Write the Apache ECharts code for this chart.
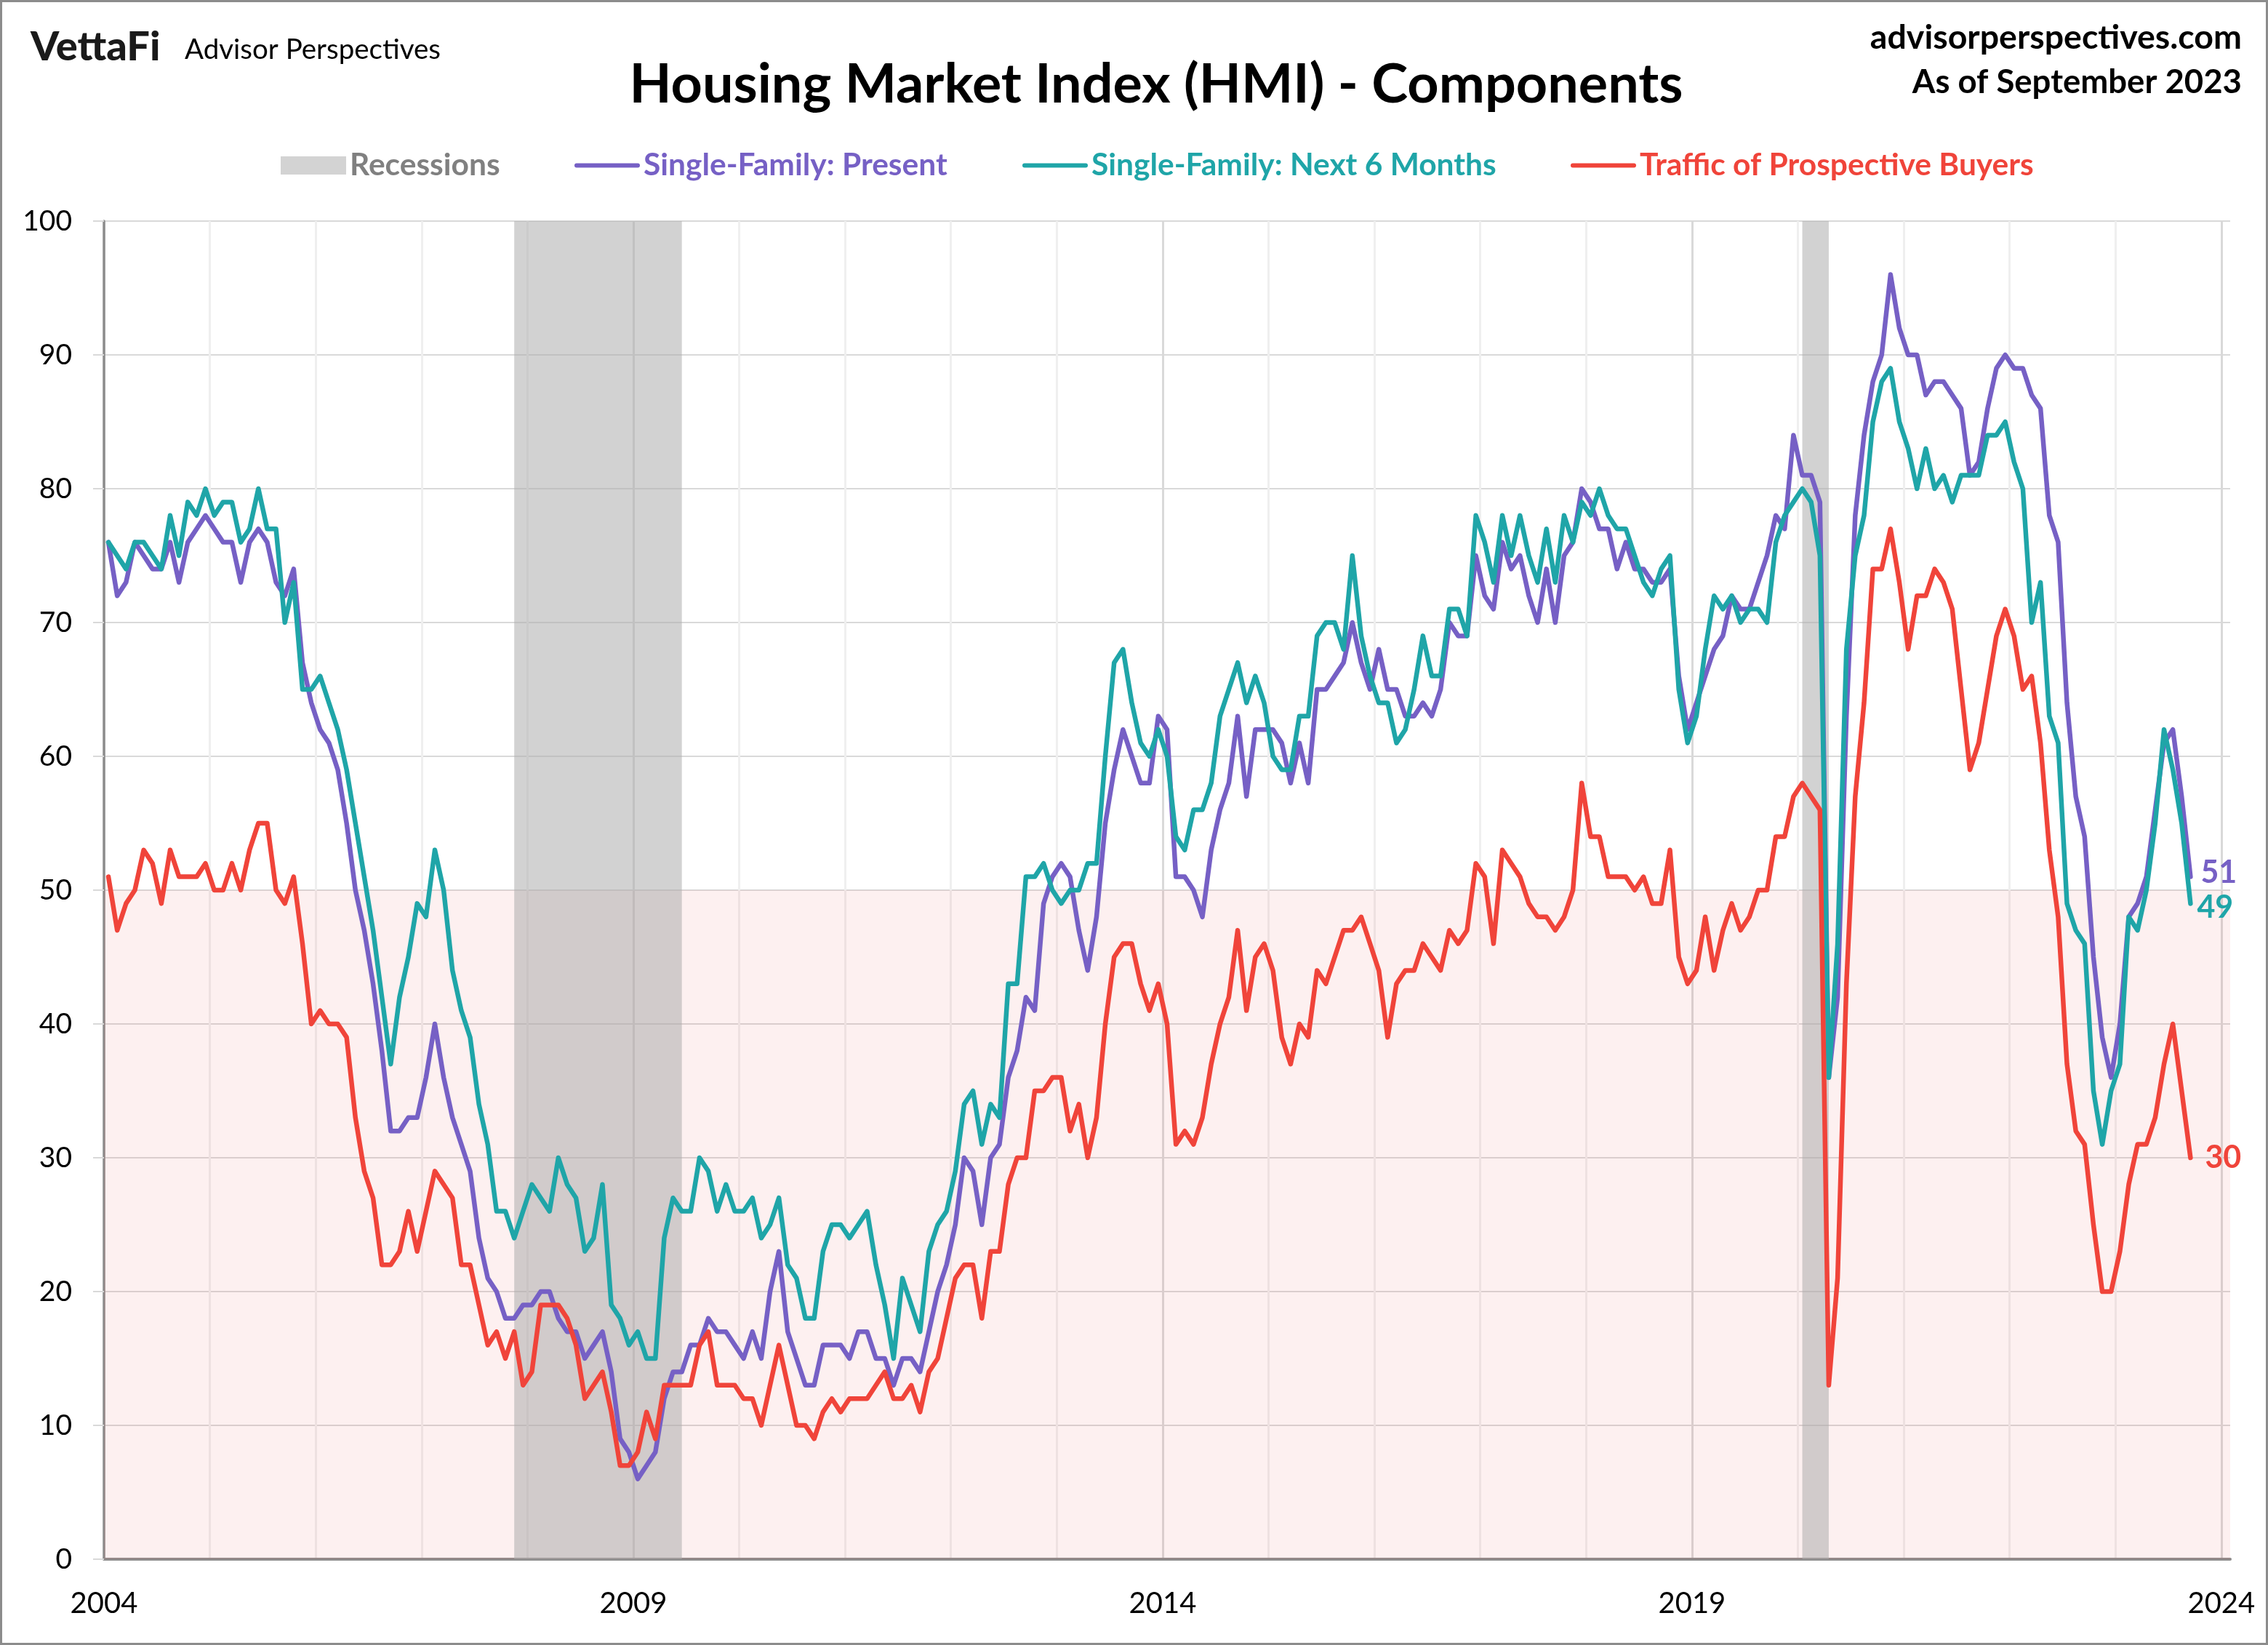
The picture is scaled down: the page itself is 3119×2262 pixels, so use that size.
<!DOCTYPE html>
<html>
<head>
<meta charset="utf-8">
<script src="https://cdn.jsdelivr.net/npm/echarts/dist/echarts.min.js"></script>
<style>
html,body{margin:0;padding:0;background:#ffffff;}
#chart{width:3119px;height:2262px;}
</style>
</head>
<body>
<div id="chart"></div>
<script>
// ---------------- DATA (monthly, Jan 2004 .. Sep 2023) ----------------
const startYear = 2004;
const startMonthNum = 1;

const present = [
  76,72,73,76,75,74,74,76,73,76,77,78,
  77,76,76,73,76,77,76,73,72,74,67,64,
  62,61,59,55,50,47,43,38,32,32,33,33,
  36,40,36,33,31,29,24,21,20,18,18,19,
  19,20,20,18,17,17,15,16,17,14,9,8,
  6,7,8,12,14,14,16,16,18,17,17,16,
  15,17,15,20,23,17,15,13,13,16,16,16,
  15,17,17,15,15,13,15,15,14,17,20,22,
  25,30,29,25,30,31,36,38,42,41,49,51,
  52,51,47,44,48,55,59,62,60,58,58,63,
  62,51,51,50,48,53,56,58,63,57,62,62,
  62,61,58,61,58,65,65,66,67,70,67,65,
  68,65,65,63,63,64,63,65,70,69,69,75,
  72,71,76,74,75,72,70,74,70,75,76,80,
  79,77,77,74,76,74,74,73,73,74,66,62,
  64,66,68,69,72,71,71,73,75,78,77,84,
  81,81,79,36,42,63,78,84,88,90,96,92,
  90,90,87,88,88,87,86,81,82,86,89,90,
  89,89,87,86,78,76,64,57,54,45,39,36,
  40,48,49,51,56,61,62,57,51
];

const next6 = [
  76,75,74,76,76,75,74,78,75,79,78,80,
  78,79,79,76,77,80,77,77,70,73,65,65,
  66,64,62,59,55,51,47,42,37,42,45,49,
  48,53,50,44,41,39,34,31,26,26,24,26,
  28,27,26,30,28,27,23,24,28,19,18,16,
  17,15,15,24,27,26,26,30,29,26,28,26,
  26,27,24,25,27,22,21,18,18,23,25,25,
  24,25,26,22,19,15,21,19,17,23,25,26,
  29,34,35,31,34,33,43,43,51,51,52,50,
  49,50,50,52,52,60,67,68,64,61,60,62,
  60,54,53,56,56,58,63,65,67,64,66,64,
  60,59,59,63,63,69,70,70,68,75,69,66,
  64,64,61,62,65,69,66,66,71,71,69,78,
  76,73,78,75,78,75,73,77,73,78,76,79,
  78,80,78,77,77,75,73,72,74,75,65,61,
  63,68,72,71,72,70,71,71,70,76,78,79,
  80,79,75,36,46,68,75,78,85,88,89,85,
  83,80,83,80,81,79,81,81,81,84,84,85,
  82,80,70,73,63,61,49,47,46,35,31,35,
  37,48,47,50,55,62,59,55,49
];

const traffic = [
  51,47,49,50,53,52,49,53,51,51,51,52,
  50,50,52,50,53,55,55,50,49,51,46,40,
  41,40,40,39,33,29,27,22,22,23,26,23,
  26,29,28,27,22,22,19,16,17,15,17,13,
  14,19,19,19,18,16,12,13,14,11,7,7,
  8,11,9,13,13,13,13,16,17,13,13,13,
  12,12,10,13,16,13,10,10,9,11,12,11,
  12,12,12,13,14,12,12,13,11,14,15,18,
  21,22,22,18,23,23,28,30,30,35,35,36,
  36,32,34,30,33,40,45,46,46,43,41,43,
  40,31,32,31,33,37,40,42,47,41,45,46,
  44,39,37,40,39,44,43,45,47,47,48,46,
  44,39,43,44,44,46,45,44,47,46,47,52,
  51,46,53,52,51,49,48,48,47,48,50,58,
  54,54,51,51,51,50,51,49,49,53,45,43,
  44,48,44,47,49,47,48,50,50,54,54,57,
  58,57,56,13,21,43,57,64,74,74,77,73,
  68,72,72,74,73,71,65,59,61,65,69,71,
  69,65,66,61,53,48,37,32,31,25,20,20,
  23,28,31,31,33,37,40,35,30
];

const recessions = [['2007-12', '2009-06'], ['2020-02', '2020-04']];
const buyersThreshold = 50;
const xLabelYears = [2004, 2009, 2014, 2019, 2024];
const yTicks = { min: 0, max: 100, step: 10 };

const names = {
  rec: 'Recessions',
  present: 'Single-Family: Present',
  next6: 'Single-Family: Next 6 Months',
  traffic: 'Traffic of Prospective Buyers'
};
const colors = {
  present: '#7660C5',
  next6: '#1FA5A8',
  traffic: '#F0443A',
  rec: '#d3d3d3',
  recText: '#808080'
};

// ---------------- HELPERS ----------------
const FONT = 'Lato, "Open Sans", "Noto Sans", sans-serif';
const months = present.map((_, i) => {
  const t = (startMonthNum - 1) + i;
  const y = startYear + Math.floor(t / 12);
  const m = (t % 12) + 1;
  return y + '-' + String(m).padStart(2, '0');
});
function monthPos(ym) {
  const parts = ym.split('-').map(Number);
  return parts[0] + (parts[1] - 0.5) / 12;
}
function toPoints(arr) {
  return arr.map((v, i) => [monthPos(months[i]), v]);
}
const recAreas = recessions.map(r => [
  { xAxis: monthPos(r[0]) - 1 / 12 },
  { xAxis: monthPos(r[1]) }
]);

function lineSeries(name, data, color, dist, dy) {
  return {
    name: name,
    type: 'line',
    data: toPoints(data),
    showSymbol: false,
    symbol: 'none',
    z: 3,
    lineStyle: { color: color, width: 6.5, join: 'round', cap: 'round' },
    itemStyle: { color: color },
    emphasis: { disabled: true },
    endLabel: {
      show: true,
      formatter: p => String(p.value[1]),
      color: color,
      fontFamily: FONT,
      fontWeight: 'bold',
      fontSize: 43,
      distance: dist,
      offset: [0, dy]
    }
  };
}

const lineIcon = 'path://M3,0H90A3,3,0,0,1,90,6H3A3,3,0,0,1,3,0Z';
function legendAt(left, name, icon, textColor) {
  return {
    left: left,
    top: 206,
    padding: 0,
    itemWidth: 90,
    itemHeight: 25,
    itemGap: 0,
    selectedMode: false,
    data: [{ name: name, icon: icon, itemStyle: { borderWidth: 0 }, textStyle: { color: textColor } }],
    textStyle: { fontFamily: FONT, fontWeight: 'bold', fontSize: 42.5, lineHeight: 25, color: textColor }
  };
}

// ---------------- CHART ----------------
const chart = echarts.init(document.getElementById('chart'), null, { renderer: 'canvas' });

const option = {
  animation: false,
  backgroundColor: '#ffffff',
  textStyle: { fontFamily: FONT },
  grid: { left: 143, top: 304, width: 2924, height: 1840, containLabel: false },
  legend: [
    legendAt(386, names.rec, 'rect', colors.recText),
    legendAt(790, names.present, lineIcon, colors.present),
    legendAt(1406, names.next6, lineIcon, colors.next6),
    legendAt(2160, names.traffic, lineIcon, colors.traffic)
  ],
  xAxis: {
    type: 'value',
    min: xLabelYears[0],
    max: xLabelYears[xLabelYears.length - 1] + 1 / 12,
    interval: 1,
    axisLine: { show: true, onZero: false, lineStyle: { color: '#8c8c8c', width: 4 } },
    axisTick: { show: false },
    axisLabel: {
      formatter: v => (xLabelYears.indexOf(v) >= 0 ? String(v) : ''),
      fontFamily: FONT,
      fontSize: 40,
      color: '#000000',
      margin: 41,
      showMaxLabel: false
    },
    splitLine: {
      show: true,
      showMaxLine: false,
      lineStyle: { color: ['#d9d9d9', '#efefef', '#efefef', '#efefef', '#efefef'], width: 3 }
    }
  },
  yAxis: {
    type: 'value',
    min: yTicks.min,
    max: yTicks.max,
    interval: yTicks.step,
    axisLine: { show: true, lineStyle: { color: '#8c8c8c', width: 3.5 } },
    axisTick: { show: true, length: 15, lineStyle: { color: '#d9d9d9', width: 2 } },
    axisLabel: { fontFamily: FONT, fontSize: 39, color: '#000000', margin: 44 },
    splitLine: { show: true, lineStyle: { color: '#d9d9d9', width: 2 } }
  },
  series: [
    {
      name: 'band',
      type: 'line',
      data: [],
      silent: true,
      markArea: {
        silent: true,
        z: 0.5,
        itemStyle: { color: 'rgba(240,110,110,0.1)' },
        data: [[{ yAxis: yTicks.min }, { yAxis: buyersThreshold }]]
      }
    },
    {
      name: names.rec,
      type: 'line',
      data: [],
      silent: true,
      itemStyle: { color: colors.rec },
      lineStyle: { color: colors.rec },
      markArea: {
        silent: true,
        z: 1,
        itemStyle: { color: 'rgba(171,171,171,0.54)' },
        data: recAreas
      }
    },
    lineSeries(names.present, present, colors.present, 14, -5),
    lineSeries(names.next6, next6, colors.next6, 9, 6),
    lineSeries(names.traffic, traffic, colors.traffic, 20, 0)
  ],
  graphic: [
    { type: 'rect', silent: true, z: 100,
      shape: { x: 1.5, y: 1.5, width: 3116, height: 2259 },
      style: { fill: 'none', stroke: '#8c8c8c', lineWidth: 3 } },
    { type: 'text', silent: true, z: 100,
      style: { x: 42, y: 65, text: 'VettaFi', font: '900 56px ' + FONT, fill: '#1a1a1a',
               textAlign: 'left', textVerticalAlign: 'middle', align: 'left', verticalAlign: 'middle' } },
    { type: 'text', silent: true, z: 100,
      style: { x: 254, y: 69, text: 'Advisor Perspectives', font: '38.5px ' + FONT, fill: '#000000',
               textAlign: 'left', textVerticalAlign: 'middle', align: 'left', verticalAlign: 'middle' } },
    { type: 'text', silent: true, z: 100,
      style: { x: 1590, y: 117, text: 'Housing Market Index (HMI) - Components', font: 'bold 75.5px ' + FONT, fill: '#000000',
               textAlign: 'center', textVerticalAlign: 'middle', align: 'center', verticalAlign: 'middle' } },
    { type: 'text', silent: true, z: 100,
      style: { x: 3083, y: 52, text: 'advisorperspectives.com', font: 'bold 46.5px ' + FONT, fill: '#000000',
               textAlign: 'right', textVerticalAlign: 'middle', align: 'right', verticalAlign: 'middle' } },
    { type: 'text', silent: true, z: 100,
      style: { x: 3083, y: 113, text: 'As of September 2023', font: 'bold 45.5px ' + FONT, fill: '#000000',
               textAlign: 'right', textVerticalAlign: 'middle', align: 'right', verticalAlign: 'middle' } }
  ]
};

chart.setOption(option);
</script>
</body>
</html>
